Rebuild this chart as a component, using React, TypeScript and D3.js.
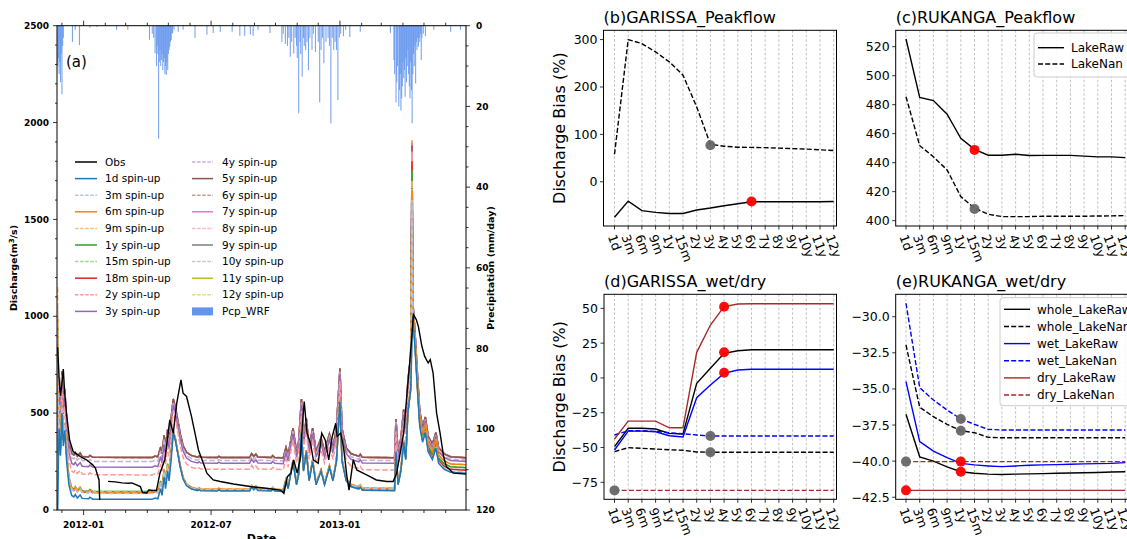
import React from 'react';
import * as d3 from 'd3';

const FONT = "'DejaVu Sans', Verdana, sans-serif";
const u = d3.utcParse('%Y-%m-%d');

// ================= Panel (a) data =================
const simNames = ['1d', '3m', '6m', '9m', '1y', '15m', '18m', '2y', '3y', '4y', '5y', '6y', '7y', '8y', '9y', '10y', '11y', '12y'];
const simColors = ['#1f77b4', '#aec7e8', '#ff7f0e', '#ffbb78', '#2ca02c', '#98df8a', '#d62728', '#ff9896', '#9467bd', '#c5b0d5', '#8c564b', '#c49c94', '#e377c2', '#f7b6d2', '#7f7f7f', '#c7c7c7', '#bcbd22', '#dbdb8d'];

// base-flow level of each run in the four quiet periods (m3/s)
const levelDec11Apr12 = [55, 85, 90, 93, 95, 95, 88, 181, 221, 250, 271, 271, 271, 271, 271, 271, 271, 271];
const levelJun12Dec12 = [98, 104, 107, 108, 105, 106, 103, 210, 241, 255, 271, 271, 271, 271, 271, 271, 271, 271];
const levelJan13Apr13 = [100, 108, 112, 113, 103, 105, 108, 206, 241, 255, 270, 270, 270, 270, 270, 270, 270, 270];
const levelMay13Jun13 = [190, 195, 233, 235, 218, 220, 205, 207, 250, 258, 270, 270, 270, 270, 270, 270, 270, 270];
// first-day value of each run
const startPeak = [0, 1050, 1000, 1150, 950, 950, 900, 850, 850, 800, 800, 800, 800, 800, 800, 800, 800, 800];
// flash peak on 2013-04-14
const aprilPeak2013 = [0, 1600, 1650, 1700, 1750, 1750, 1800, 1850, 1800, 1850, 1880, 1880, 1900, 1900, 1890, 1890, 1910, 1900];

// 1d spin-up run vertices
const run1d: [string, number][] = [
  ['2011-11-25', 0], ['2011-11-26', 250], ['2011-11-27', 420], ['2011-11-29', 280], ['2011-12-01', 500],
  ['2011-12-03', 330], ['2011-12-05', 410], ['2011-12-08', 240], ['2011-12-11', 130], ['2011-12-15', 75],
  ['2011-12-18', 68], ['2011-12-20', 80], ['2011-12-23', 62], ['2011-12-27', 78], ['2011-12-30', 60],
  ['2012-01-08', 58], ['2012-01-10', 66], ['2012-01-14', 56], ['2012-04-08', 55], ['2012-04-12', 62],
  ['2012-04-16', 58], ['2012-04-20', 110], ['2012-04-22', 75], ['2012-04-25', 170], ['2012-04-27', 110],
  ['2012-04-30', 200], ['2012-05-02', 150], ['2012-05-05', 260], ['2012-05-08', 400], ['2012-05-11', 360],
  ['2012-05-14', 300], ['2012-05-18', 220], ['2012-05-22', 160], ['2012-05-27', 125], ['2012-06-03', 108],
  ['2012-06-12', 100], ['2012-06-14', 106], ['2012-06-16', 99], ['2012-07-10', 98], ['2012-07-12', 104],
  ['2012-07-15', 98], ['2012-08-25', 98], ['2012-08-28', 118], ['2012-08-31', 104], ['2012-09-03', 115],
  ['2012-09-06', 100], ['2012-09-25', 98], ['2012-09-27', 108], ['2012-09-30', 98], ['2012-10-12', 96],
  ['2012-10-16', 150], ['2012-10-19', 110], ['2012-10-26', 250], ['2012-10-31', 130], ['2012-11-03', 180],
  ['2012-11-07', 400], ['2012-11-10', 200], ['2012-11-14', 300], ['2012-11-18', 150], ['2012-11-23', 250],
  ['2012-11-28', 130], ['2012-12-05', 200], ['2012-12-10', 130], ['2012-12-17', 220], ['2012-12-22', 150],
  ['2012-12-27', 250], ['2013-01-01', 560], ['2013-01-04', 250], ['2013-01-10', 150], ['2013-01-17', 120],
  ['2013-01-28', 108], ['2013-01-30', 118], ['2013-02-02', 102], ['2013-03-20', 100], ['2013-03-22', 300],
  ['2013-03-25', 130], ['2013-03-29', 200], ['2013-04-02', 350], ['2013-04-05', 260], ['2013-04-08', 500],
  ['2013-04-12', 620], ['2013-04-15', 1000], ['2013-04-18', 850], ['2013-04-22', 600], ['2013-04-25', 430],
  ['2013-04-29', 350], ['2013-05-03', 400], ['2013-05-07', 300], ['2013-05-13', 260], ['2013-05-18', 320],
  ['2013-05-22', 240], ['2013-05-30', 210], ['2013-06-08', 195], ['2013-06-30', 190],
];

const obsSeg1: [string, number][] = [
  ['2011-11-25', 840], ['2011-11-27', 680], ['2011-11-29', 590], ['2011-12-01', 650], ['2011-12-03', 728],
  ['2011-12-05', 600], ['2011-12-08', 483], ['2011-12-12', 362], ['2011-12-17', 302], ['2011-12-22', 290],
  ['2011-12-27', 276], ['2012-01-05', 259], ['2012-01-14', 233], ['2012-01-18', 215], ['2012-01-20', 190],
  ['2012-01-23', 155], ['2012-01-24', 52],
];
const obsSeg2: [string, number][] = [
  ['2012-02-05', 148], ['2012-02-15', 145], ['2012-02-25', 140], ['2012-03-05', 138], ['2012-03-10', 140],
  ['2012-03-22', 121], ['2012-03-25', 90], ['2012-03-31', 88], ['2012-04-03', 103], ['2012-04-14', 100],
  ['2012-04-19', 190], ['2012-04-26', 259], ['2012-05-03', 466], ['2012-05-08', 397], ['2012-05-13', 552],
  ['2012-05-19', 672], ['2012-05-22', 603], ['2012-05-27', 586], ['2012-06-03', 483], ['2012-06-08', 397],
  ['2012-06-13', 310], ['2012-06-20', 241], ['2012-06-25', 190], ['2012-07-04', 155], ['2012-07-14', 147],
  ['2012-08-02', 134], ['2012-08-26', 121], ['2012-09-18', 112], ['2012-10-08', 103], ['2012-10-13', 86],
  ['2012-10-18', 172], ['2012-10-23', 190], ['2012-10-27', 259], ['2012-11-01', 190], ['2012-11-06', 276],
  ['2012-11-08', 422], ['2012-11-11', 560], ['2012-11-15', 397], ['2012-11-20', 345], ['2012-11-24', 259],
  ['2012-12-01', 241], ['2012-12-06', 397], ['2012-12-11', 362], ['2012-12-16', 259], ['2012-12-21', 379],
  ['2012-12-26', 448], ['2012-12-28', 379], ['2013-01-02', 397], ['2013-01-06', 328], ['2013-01-11', 172],
  ['2013-01-14', 103], ['2013-01-20', 259], ['2013-01-25', 207], ['2013-02-03', 190], ['2013-02-13', 172],
  ['2013-02-22', 155], ['2013-03-09', 147], ['2013-03-18', 147], ['2013-03-23', 190], ['2013-03-28', 293],
  ['2013-04-02', 397], ['2013-04-06', 569], ['2013-04-11', 776], ['2013-04-16', 1009], ['2013-04-20', 983],
  ['2013-04-23', 948], ['2013-04-28', 845], ['2013-05-02', 793], ['2013-05-07', 759], ['2013-05-10', 776],
  ['2013-05-14', 707], ['2013-05-19', 500], ['2013-05-24', 397], ['2013-05-29', 276], ['2013-06-02', 224],
  ['2013-06-12', 190], ['2013-06-30', 185],
];

// WRF precipitation (mm/day)
const pcpWRF: [string, number][] = [
  ['2011-11-25', 10], ['2011-11-26', 8], ['2011-11-27', 12], ['2011-11-28', 9], ['2011-11-29', 14], ['2011-11-30', 7],
  ['2011-12-01', 17], ['2011-12-02', 5], ['2011-12-03', 3], ['2011-12-16', 4], ['2011-12-20', 1], ['2011-12-26', 4.8],
  ['2012-01-10', 0.5], ['2012-01-20', 0.3], ['2012-02-17', 1], ['2012-03-04', 1], ['2012-04-04', 3.5],
  ['2012-04-08', 2], ['2012-04-10', 3], ['2012-04-12', 6.8], ['2012-04-14', 10], ['2012-04-15', 5], ['2012-04-16', 7],
  ['2012-04-17', 28], ['2012-04-18', 9], ['2012-04-19', 6], ['2012-04-20', 10], ['2012-04-21', 8.5], ['2012-04-22', 7],
  ['2012-04-23', 11], ['2012-04-24', 9], ['2012-04-25', 8], ['2012-04-26', 12], ['2012-04-27', 10], ['2012-04-28', 12.2],
  ['2012-04-29', 9], ['2012-04-30', 11], ['2012-05-01', 7], ['2012-05-02', 6], ['2012-05-03', 5.2], ['2012-05-04', 4],
  ['2012-05-05', 3.5], ['2012-05-06', 2], ['2012-05-07', 1.8], ['2012-05-09', 1], ['2012-05-15', 1.5], ['2012-05-22', 1],
  ['2012-06-08', 3], ['2012-06-25', 2.2], ['2012-07-04', 1.8], ['2012-07-14', 1.5], ['2012-07-31', 1.5],
  ['2012-08-11', 2.5], ['2012-08-18', 2.5], ['2012-08-26', 2.2], ['2012-08-30', 2.5], ['2012-09-06', 1], ['2012-09-23', 1.8],
  ['2012-10-10', 4], ['2012-10-12', 2], ['2012-10-15', 4.5], ['2012-10-18', 5], ['2012-10-20', 3], ['2012-10-22', 7.7],
  ['2012-10-24', 4], ['2012-10-27', 6.9], ['2012-10-29', 3], ['2012-10-31', 5], ['2012-11-01', 8], ['2012-11-03', 21.7],
  ['2012-11-05', 4], ['2012-11-06', 7], ['2012-11-08', 12.6], ['2012-11-10', 3], ['2012-11-11', 5], ['2012-11-13', 6],
  ['2012-11-15', 4], ['2012-11-17', 11], ['2012-11-19', 3], ['2012-11-22', 6], ['2012-11-24', 2], ['2012-11-27', 6.5],
  ['2012-12-01', 4], ['2012-12-03', 19], ['2012-12-05', 6], ['2012-12-07', 3], ['2012-12-09', 9.3], ['2012-12-12', 4],
  ['2012-12-15', 3], ['2012-12-17', 5], ['2012-12-19', 24.2], ['2012-12-21', 3], ['2012-12-23', 6], ['2012-12-25', 4],
  ['2012-12-27', 6], ['2012-12-29', 18.4], ['2012-12-31', 3], ['2013-01-02', 2], ['2013-01-06', 2.6], ['2013-01-09', 1],
  ['2013-01-15', 2.8], ['2013-01-30', 1.5], ['2013-03-14', 1.8], ['2013-03-19', 8.5], ['2013-03-20', 12], ['2013-03-22', 19],
  ['2013-03-23', 14], ['2013-03-24', 10], ['2013-03-26', 20], ['2013-03-27', 16], ['2013-03-28', 12], ['2013-03-29', 21],
  ['2013-03-30', 18], ['2013-03-31', 15], ['2013-04-01', 9], ['2013-04-02', 13], ['2013-04-03', 11], ['2013-04-04', 17.6],
  ['2013-04-05', 8], ['2013-04-06', 14], ['2013-04-07', 10], ['2013-04-08', 6], ['2013-04-09', 12], ['2013-04-10', 15],
  ['2013-04-11', 18], ['2013-04-12', 9], ['2013-04-13', 16], ['2013-04-14', 24.2], ['2013-04-15', 12], ['2013-04-16', 7],
  ['2013-04-17', 10], ['2013-04-18', 5], ['2013-04-19', 14.3], ['2013-04-20', 4], ['2013-04-21', 6], ['2013-04-22', 3],
  ['2013-04-23', 5.2], ['2013-04-24', 3], ['2013-04-25', 4], ['2013-04-26', 2], ['2013-04-27', 8.5], ['2013-04-28', 3],
  ['2013-04-30', 2], ['2013-05-03', 2.6], ['2013-05-15', 1], ['2013-06-08', 1.5], ['2013-06-22', 1],
];

// ================= Panels (b)-(e) data =================
const spinCats = ['1d', '3m', '6m', '9m', '1y', '15m', '2y', '3y', '4y', '5y', '6y', '7y', '8y', '9y', '10y', '11y', '12y'];

const garissaPeakLakeRaw = [-75, -40.7, -61, -64.5, -67, -67, -59.6, -55.4, -50.5, -46.3, -42, -42, -42, -42, -42, -42, -41.7];
const garissaPeakLakeNan = [58, 300, 291.5, 274, 253, 225, 158, 79, 75, 73, 72.5, 72, 71, 70, 69, 67.5, 66];

const rukangaPeakLakeRaw = [525.3, 485, 482.8, 473.4, 456.8, 449.2, 445.1, 445.1, 445.8, 444.9, 445, 445, 445, 444.5, 444, 444, 443.5];
const rukangaPeakLakeNan = [485.5, 451.7, 444.1, 435, 416.6, 408.6, 404.4, 402.8, 402.8, 402.8, 403, 403, 403, 403, 403.2, 403.3, 403.5];

const garissaWholeRaw = [-49.4, -36.2, -36.2, -36.7, -39.8, -40.3, -3.9, 6.9, 17.7, 19.5, 20.3, 20.3, 20.3, 20.3, 20.3, 20.3, 20.3];
const garissaWholeNan = [-53, -50.1, -50.6, -51.1, -51.6, -52, -53.2, -53.4, -53.4, -53.4, -53.4, -53.4, -53.4, -53.4, -53.4, -53.4, -53.4];
const garissaWetRaw = [-51.8, -38.2, -38.2, -38.7, -41.5, -42.4, -14.2, -5.1, 3.3, 5.7, 6.2, 6.2, 6.2, 6.2, 6.2, 6.2, 6.2];
const garissaWetNan = [-41, -37.9, -37.9, -38.4, -39.4, -40.1, -41, -41.7, -41.7, -41.7, -41.7, -41.7, -41.7, -41.7, -41.7, -41.7, -41.7];
const garissaDryRaw = [-43.9, -31, -31, -31, -35.8, -35.8, 18.4, 38, 51.2, 53.1, 53.3, 53.3, 53.3, 53.3, 53.3, 53.3, 53.3];
const garissaDryNan = [-80.8, -80.8, -80.8, -80.8, -80.8, -80.8, -80.8, -80.8, -80.8, -80.8, -80.8, -80.8, -80.8, -80.8, -80.8, -80.8, -80.8];

const rukangaWholeRaw = [-36.75, -39.7, -40.0, -40.4, -40.73, -40.84, -40.9, -40.92, -40.9, -40.88, -40.86, -40.84, -40.82, -40.8, -40.78, -40.75, -40.73];
const rukangaWholeNan = [-31.96, -36.27, -36.92, -37.45, -37.89, -38.03, -38.35, -38.38, -38.38, -38.38, -38.38, -38.38, -38.38, -38.38, -38.38, -38.38, -38.38];
const rukangaWetRaw = [-34.5, -38.65, -39.3, -39.76, -40.15, -40.26, -40.33, -40.38, -40.33, -40.28, -40.26, -40.24, -40.21, -40.19, -40.17, -40.15, -40.1];
const rukangaWetNan = [-29.07, -34.91, -35.77, -36.46, -37.08, -37.45, -37.8, -37.84, -37.84, -37.84, -37.84, -37.84, -37.84, -37.84, -37.84, -37.84, -37.84];
const rukangaDryRaw = [-42.02, -42.02, -42.02, -42.02, -42.02, -42.02, -42.02, -42.02, -42.02, -42.02, -42.02, -42.02, -42.02, -42.02, -42.02, -42.02, -42.02];
const rukangaDryNan = [-40.03, -40.03, -40.03, -40.03, -40.03, -40.03, -40.03, -40.03, -40.03, -40.03, -40.03, -40.03, -40.03, -40.03, -40.03, -40.03, -40.03];

const RED = '#ff0000';
const GRAY = '#666666';

// ================= helpers =================
const levels = [levelDec11Apr12, levelJun12Dec12, levelJan13Apr13, levelMay13Jun13];
function periodOf(d: string) {
  return d < '2012-05-08' ? 0 : d < '2013-01-01' ? 1 : d < '2013-04-15' ? 2 : 3;
}
function buildRun(i: number): [string, number][] {
  const pts: [string, number][] = run1d.map(([d, v]) => {
    const p = periodOf(d);
    return [d, v + levels[p][i] - levels[p][0]];
  });
  if (i > 0) {
    pts[0] = [pts[0][0], startPeak[i]];
    pts.push(['2013-04-14', aprilPeak2013[i]]);
    pts.sort((a, b) => (a[0] < b[0] ? -1 : 1));
  }
  return pts;
}
const minus = (v: number, dec = 0) => (v < 0 ? '\u2212' : '') + Math.abs(v).toFixed(dec);

// ================= Panel (a) =================
function PanelA() {
  const L = 57, R = 466, T = 25.7, B = 510;
  const x = d3.scaleUtc().domain([u('2011-11-24')!, u('2013-06-30')!]).range([L, R]);
  const y = d3.scaleLinear().domain([0, 2500]).range([B, T]);
  const yp = d3.scaleLinear().domain([0, 120]).range([T, B]);
  const line = d3.line<[string, number]>().x(d => x(u(d[0])!)).y(d => y(d[1]));
  const runs = simNames.map((_, i) => buildRun(i));
  const months = d3.utcMonth.range(u('2011-11-25')!, u('2013-06-30')!);
  const majors = ['2012-01-01', '2012-07-01', '2013-01-01'];
  const order = simNames.map((_, i) => simNames.length - 1 - i);
  const legCol1 = ['Obs', ...simNames.slice(0, 9)];
  const legCol2 = [...simNames.slice(9), 'Pcp_WRF'];
  const rowY = (k: number) => 162 + k * 16.6;
  const dash = '5.5,2.4';
  return (
    <g>
      <defs>
        <clipPath id="clipA"><rect x={L} y={T} width={R - L} height={B - T} /></clipPath>
      </defs>
      <g clipPath="url(#clipA)">
        {pcpWRF.map(([d, v], k) => (
          <rect key={k} x={x(u(d)!) - 0.5} y={T} width={1.1} height={yp(v) - T} fill="#6495ed" fillOpacity={0.85} />
        ))}
        {order.map(i => (
          <path key={i} d={line(runs[i]) || ''} fill="none" stroke={simColors[i]} strokeWidth={1.5}
            strokeDasharray={i % 2 === 1 ? dash : undefined} />
        ))}
        <path d={line(obsSeg1) || ''} fill="none" stroke="#000" strokeWidth={1.4} />
        <path d={line(obsSeg2) || ''} fill="none" stroke="#000" strokeWidth={1.4} />
      </g>
      <rect x={L} y={T} width={R - L} height={B - T} fill="none" stroke="#000" strokeWidth={1} />
      {/* left axis */}
      {d3.range(0, 2501, 100).map(v => (
        <line key={'lm' + v} x1={L} x2={L - (v % 500 === 0 ? 4 : 2)} y1={y(v)} y2={y(v)} stroke="#000" strokeWidth={0.8} />
      ))}
      {d3.range(0, 2501, 500).map(v => (
        <text key={'ll' + v} x={L - 8} y={y(v)} dy="0.35em" textAnchor="end" fontSize={9} fontWeight="bold">{v}</text>
      ))}
      {/* right axis */}
      {d3.range(0, 121, 5).map(v => (
        <line key={'rm' + v} x1={R} x2={R + (v % 20 === 0 ? 4 : 2.5)} y1={yp(v)} y2={yp(v)} stroke="#000" strokeWidth={0.8} />
      ))}
      {d3.range(0, 121, 20).map(v => (
        <text key={'rl' + v} x={R + 10} y={yp(v)} dy="0.35em" textAnchor="start" fontSize={9} fontWeight="bold">{v}</text>
      ))}
      {/* bottom & top ticks */}
      {months.map((m, k) => {
        const isMaj = majors.includes(d3.utcFormat('%Y-%m-%d')(m));
        const xx = x(m);
        return (
          <g key={'mt' + k}>
            <line x1={xx} x2={xx} y1={B} y2={B + (isMaj ? 5 : 3)} stroke="#000" strokeWidth={0.8} />
            <line x1={xx} x2={xx} y1={T} y2={T - (isMaj ? 5 : 3)} stroke="#000" strokeWidth={0.8} />
          </g>
        );
      })}
      {majors.map(d => (
        <text key={'bl' + d} x={x(u(d)!)} y={528} textAnchor="middle" fontSize={9} fontWeight="bold">{d.slice(0, 7)}</text>
      ))}
      <text x={(L + R) / 2} y={542} textAnchor="middle" fontSize={11} fontWeight="bold">Date</text>
      <text transform={`translate(17,268) rotate(-90)`} textAnchor="middle" fontSize={9.5} fontWeight="bold">
        Discharge(m<tspan dy="-3" fontSize={7}>3</tspan><tspan dy="3">/s)</tspan>
      </text>
      <text transform={`translate(494,268) rotate(-90)`} textAnchor="middle" fontSize={9.5} fontWeight="bold">Precipitation (mm/day)</text>
      <text x={66} y={67} fontSize={15}>(a)</text>
      {/* legend */}
      {legCol1.map((n, k) => {
        const yy = rowY(k);
        const i = k - 1;
        return (
          <g key={'lg1' + k}>
            <line x1={75} x2={97} y1={yy} y2={yy} stroke={k === 0 ? '#000' : simColors[i]} strokeWidth={1.5}
              strokeDasharray={k > 0 && i % 2 === 1 ? '3.5,1.6' : undefined} />
            <text x={105} y={yy} dy="0.35em" fontSize={10.5}>{k === 0 ? 'Obs' : `${n} spin-up`}</text>
          </g>
        );
      })}
      {legCol2.map((n, k) => {
        const yy = rowY(k);
        const i = k + 9;
        if (n === 'Pcp_WRF') {
          return (
            <g key={'lg2' + k}>
              <rect x={192} y={yy - 4} width={21} height={8} fill="#6495ed" />
              <text x={222} y={yy} dy="0.35em" fontSize={10.5}>Pcp_WRF</text>
            </g>
          );
        }
        return (
          <g key={'lg2' + k}>
            <line x1={192} x2={213} y1={yy} y2={yy} stroke={simColors[i]} strokeWidth={1.5}
              strokeDasharray={i % 2 === 1 ? '3.5,1.6' : undefined} />
            <text x={222} y={yy} dy="0.35em" fontSize={10.5}>{`${n} spin-up`}</text>
          </g>
        );
      })}
    </g>
  );
}

// ================= Category panels =================
type LineSpec = { values: number[]; color: string; dashed?: boolean; label?: string };
type DotSpec = { cat: string; value: number; color: string };
function CatPanel(props: {
  id: string; left: number; right: number; top: number; bottom: number; xr: [number, number];
  domain: [number, number]; ticks: number[]; dec: number; lines: LineSpec[]; dots: DotSpec[];
  title: string; ylabel?: boolean; legend?: { x: number; y: number; w: number; h: number; rowY0: number; step: number };
}) {
  const { id, left, right, top, bottom, xr, domain, ticks, dec, lines, dots, title, ylabel, legend } = props;
  const x = d3.scalePoint<string>().domain(spinCats).range(xr);
  const y = d3.scaleLinear().domain(domain).range([bottom, top]);
  const line = d3.line<number>().x((_, i) => x(spinCats[i])!).y(d => y(d));
  const fs = 12.5;
  return (
    <g>
      <defs>
        <clipPath id={id}><rect x={left} y={top} width={right - left} height={bottom - top} /></clipPath>
      </defs>
      <g clipPath={`url(#${id})`}>
        {spinCats.map(c => (
          <line key={c} x1={x(c)} x2={x(c)} y1={top} y2={bottom} stroke="#b0b0b0" strokeWidth={0.8} strokeDasharray="2.5,2" />
        ))}
        {lines.map((l, k) => (
          <path key={k} d={line(l.values) || ''} fill="none" stroke={l.color} strokeWidth={1.4}
            strokeDasharray={l.dashed ? '5,2.2' : undefined} />
        ))}
        {dots.map((p, k) => (
          <circle key={k} cx={x(p.cat)} cy={y(p.value)} r={5} fill={p.color} fillOpacity={0.95} />
        ))}
      </g>
      <rect x={left} y={top} width={right - left} height={bottom - top} fill="none" stroke="#000" strokeWidth={1} />
      {ticks.map(t => (
        <g key={t}>
          <line x1={left} x2={left - 3.5} y1={y(t)} y2={y(t)} stroke="#000" strokeWidth={0.8} />
          <text x={left - 6} y={y(t)} dy="0.36em" textAnchor="end" fontSize={fs}>{minus(t, dec)}</text>
        </g>
      ))}
      {spinCats.map(c => {
        const xx = x(c)!;
        const len = c.length * 0.64 * fs;
        return (
          <g key={'xt' + c}>
            <line x1={xx} x2={xx} y1={bottom} y2={bottom + 3.5} stroke="#000" strokeWidth={0.8} />
            <text transform={`translate(${xx - 0.17 * len},${bottom + 9}) rotate(70)`} dy="0.35em" fontSize={fs}>{c}</text>
          </g>
        );
      })}
      <text x={left} y={top - 7} fontSize={16}>{title}</text>
      {ylabel && (
        <text transform={`translate(${left - 39},${(top + bottom) / 2}) rotate(-90)`} textAnchor="middle" fontSize={16}>Discharge Bias (%)</text>
      )}
      {legend && (
        <g>
          <rect x={legend.x} y={legend.y} width={legend.w} height={legend.h} rx={3} fill="#fff" fillOpacity={0.85} stroke="#cccccc" strokeWidth={1} />
          {lines.map((l, k) => {
            const yy = legend.rowY0 + k * legend.step;
            return (
              <g key={'lg' + k}>
                <line x1={legend.x + 4} x2={legend.x + 30} y1={yy} y2={yy} stroke={l.color} strokeWidth={1.4}
                  strokeDasharray={l.dashed ? '5,2.2' : undefined} />
                <text x={legend.x + 37} y={yy} dy="0.35em" fontSize={12}>{l.label}</text>
              </g>
            );
          })}
        </g>
      )}
    </g>
  );
}

export default function App() {
  const peakLines = (raw: number[], nan: number[]): LineSpec[] => [
    { values: raw, color: '#000', label: 'LakeRaw' },
    { values: nan, color: '#000', dashed: true, label: 'LakeNan' },
  ];
  const wetDryLines = (wr: number[], wn: number[], er: number[], en: number[], dr: number[], dn: number[]): LineSpec[] => [
    { values: wr, color: '#000', label: 'whole_LakeRaw' },
    { values: wn, color: '#000', dashed: true, label: 'whole_LakeNan' },
    { values: er, color: '#0000ff', label: 'wet_LakeRaw' },
    { values: en, color: '#0000ff', dashed: true, label: 'wet_LakeNan' },
    { values: dr, color: '#a52a2a', label: 'dry_LakeRaw' },
    { values: dn, color: '#a52a2a', dashed: true, label: 'dry_LakeNan' },
  ];
  return (
    <svg width={1127} height={539} style={{ position: 'fixed', left: 0, top: 0, background: '#fff' }} fontFamily={FONT}>
      <rect width={1127} height={539} fill="#fff" />
      <PanelA />
      <CatPanel id="cb" left={603.5} right={836.5} top={30.3} bottom={226} xr={[614.5, 833.7]}
        domain={[-93.3, 319.6]} ticks={[0, 100, 200, 300]} dec={0}
        lines={peakLines(garissaPeakLakeRaw, garissaPeakLakeNan)}
        dots={[{ cat: '3y', value: 77, color: GRAY }, { cat: '6y', value: -41.7, color: RED }]}
        title="(b)GARISSA_Peakflow" ylabel />
      <CatPanel id="cc" left={895.7} right={1128} top={30.3} bottom={226} xr={[906, 1125.2]}
        domain={[396.3, 531.3]} ticks={[400, 420, 440, 460, 480, 500, 520]} dec={0}
        lines={peakLines(rukangaPeakLakeRaw, rukangaPeakLakeNan)}
        dots={[{ cat: '15m', value: 448.8, color: RED }, { cat: '15m', value: 408, color: GRAY }]}
        title="(c)RUKANGA_Peakflow"
        legend={{ x: 1034, y: 33, w: 110, h: 44, rowY0: 47.7, step: 16.3 }} />
      <CatPanel id="cd" left={604} right={836.5} top={294.3} bottom={499.3} xr={[614.5, 833.7]}
        domain={[-87.2, 60.1]} ticks={[-75, -50, -25, 0, 25, 50]} dec={0}
        lines={wetDryLines(garissaWholeRaw, garissaWholeNan, garissaWetRaw, garissaWetNan, garissaDryRaw, garissaDryNan)}
        dots={[
          { cat: '4y', value: 51.2, color: RED }, { cat: '4y', value: 18.4, color: RED }, { cat: '4y', value: 3.7, color: RED },
          { cat: '3y', value: -41.7, color: GRAY }, { cat: '3y', value: -53.4, color: GRAY }, { cat: '1d', value: -80.8, color: GRAY },
        ]}
        title="(d)GARISSA_wet/dry" ylabel />
      <CatPanel id="ce" left={895.7} right={1128} top={294.3} bottom={499.3} xr={[906, 1125.2]}
        domain={[-42.64, -28.45]} ticks={[-42.5, -40, -37.5, -35, -32.5, -30]} dec={1}
        lines={wetDryLines(rukangaWholeRaw, rukangaWholeNan, rukangaWetRaw, rukangaWetNan, rukangaDryRaw, rukangaDryNan)}
        dots={[
          { cat: '1y', value: -40.03, color: RED }, { cat: '1y', value: -40.73, color: RED },
          { cat: '1y', value: -37.08, color: GRAY }, { cat: '1y', value: -37.89, color: GRAY },
          { cat: '1d', value: -42.02, color: RED }, { cat: '1d', value: -40.03, color: GRAY },
        ]}
        title="(e)RUKANGA_wet/dry"
        legend={{ x: 1000, y: 297.7, w: 140, h: 108, rowY0: 309.3, step: 17.15 }} />
    </svg>
  );
}
